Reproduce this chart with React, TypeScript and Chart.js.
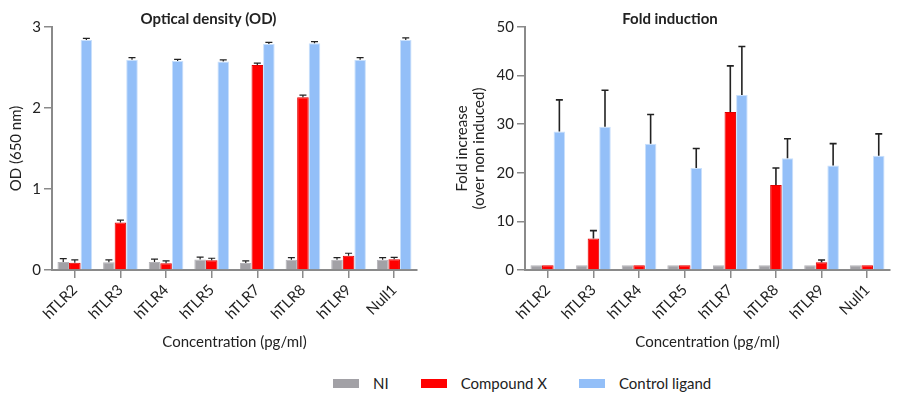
import React, { useEffect, useRef } from "react";
import { Chart, registerables } from "chart.js";

Chart.register(...registerables);

const categories = ["hTLR2", "hTLR3", "hTLR4", "hTLR5", "hTLR7", "hTLR8", "hTLR9", "Null1"];
const seriesNames = ["NI", "Compound X", "Control ligand"];

// Optical density (OD)
const odNI = [0.1, 0.095, 0.1, 0.13, 0.087, 0.128, 0.128, 0.128];
const odNIErr = [0.04, 0.03, 0.035, 0.03, 0.025, 0.025, 0.025, 0.025];
const odCompound = [0.09, 0.585, 0.082, 0.12, 2.53, 2.134, 0.177, 0.132];
const odCompoundErr = [0.035, 0.03, 0.03, 0.025, 0.025, 0.025, 0.03, 0.025];
const odControl = [2.84, 2.596, 2.58, 2.575, 2.79, 2.8, 2.596, 2.84];
const odControlErr = [0.02, 0.025, 0.02, 0.02, 0.02, 0.02, 0.025, 0.025];
const odTicks = [0, 1, 2, 3];

// Fold induction
const foldNI = [1, 1, 1, 1, 1, 1, 1, 1];
const foldNIErr = [0, 0, 0, 0, 0, 0, 0, 0];
const foldCompound = [1, 6.5, 1, 1, 32.5, 17.5, 1.6, 1];
const foldCompoundErr = [0, 1.6, 0, 0, 9.5, 3.5, 0.45, 0];
const foldControl = [28.5, 29.5, 26, 21, 36, 23, 21.5, 23.5];
const foldControlErr = [6.5, 7.5, 6, 4, 10, 4, 4.5, 4.5];
const foldTicks = [0, 10, 20, 30, 40, 50];

const COLORS = ["#a2a1a6", "#ff0000", "#93bff8"];
const BORDERS = ["#b4b3b8", "#e00000", "#c9e0fc"];
const AXIS = "#8a8a8a";
const TEXT = "#222222";
const FONT = "Lato, 'Noto Sans', sans-serif";

const errorBarPlugin = {
  id: "errorBars",
  afterDatasetsDraw(chart: any, _args: any, opts: any) {
    const { ctx } = chart;
    const yScale = chart.scales.y;
    ctx.save();
    ctx.strokeStyle = "#222";
    ctx.lineWidth = opts.lineWidth || 1.2;
    chart.data.datasets.forEach((ds: any, di: number) => {
      const meta = chart.getDatasetMeta(di);
      const errs: number[] = ds.errors || [];
      meta.data.forEach((bar: any, i: number) => {
        const e = errs[i];
        if (!e) return;
        const v = ds.data[i];
        const yTop = yScale.getPixelForValue(v + e);
        const x = bar.x;
        const half = (opts.cap || 6) / 2;
        ctx.beginPath();
        ctx.moveTo(x, bar.y);
        ctx.lineTo(x, yTop);
        ctx.moveTo(x - half, yTop);
        ctx.lineTo(x + half, yTop);
        ctx.stroke();
      });
    });
    ctx.restore();
  },
};

function makeConfig(
  title: string,
  yTitle: string | string[],
  values: number[][],
  errors: number[][],
  ticks: number[],
  yWidth: number,
  padRight: number,
  yTitlePad: number,
  errWidth: number
): any {
  return {
    type: "bar",
    data: {
      labels: categories,
      datasets: values.map((vals, k) => ({
        label: seriesNames[k],
        data: vals,
        errors: errors[k],
        backgroundColor: COLORS[k],
        borderColor: BORDERS[k],
        borderWidth: 1,
        borderSkipped: "bottom",
        barPercentage: 1,
        categoryPercentage: 0.76,
      })),
    },
    options: {
      animation: false,
      responsive: false,
      maintainAspectRatio: false,
      layout: { padding: { left: 0, right: padRight, top: 0, bottom: 0 } },
      plugins: {
        legend: { display: false },
        tooltip: { enabled: false },
        title: {
          display: true,
          text: title,
          color: TEXT,
          font: { family: FONT, size: 15, weight: "bold", lineHeight: 1.2 },
          padding: { top: 10, bottom: -1 },
        },
        errorBars: { lineWidth: errWidth, cap: 7 },
      },
      scales: {
        x: {
          offset: true,
          grid: {
            display: true,
            drawOnChartArea: false,
            drawTicks: true,
            tickLength: 8,
            color: AXIS,
            lineWidth: 1.5,
            offset: false,
          },
          border: { display: true, color: AXIS, width: 2 },
          ticks: {
            autoSkip: false,
            maxRotation: 45,
            minRotation: 45,
            padding: 3,
            color: TEXT,
            font: { family: FONT, size: 15 },
          },
          title: {
            display: true,
            text: "Concentration (pg/ml)",
            color: TEXT,
            font: { family: FONT, size: 15, lineHeight: 1.2 },
            padding: { top: 4, bottom: 3 },
          },
          afterFit(scale: any) {
            scale.height = 84;
          },
        },
        y: {
          min: ticks[0],
          max: ticks[ticks.length - 1],
          afterBuildTicks(scale: any) {
            scale.ticks = ticks.map((v) => ({ value: v }));
          },
          grid: {
            display: true,
            drawOnChartArea: false,
            drawTicks: true,
            tickLength: 8,
            color: AXIS,
            lineWidth: 1.5,
          },
          border: { display: true, color: AXIS, width: 2 },
          ticks: {
            padding: 3,
            color: TEXT,
            font: { family: FONT, size: 15 },
          },
          title: {
            display: true,
            text: yTitle,
            color: TEXT,
            font: { family: FONT, size: 15, lineHeight: 1.17 },
            padding: { top: yTitlePad, bottom: 0 },
          },
          afterFit(scale: any) {
            scale.width = yWidth;
          },
        },
      },
    },
    plugins: [errorBarPlugin],
  };
}

function ChartCanvas({ config, left }: { config: any; left: number }) {
  const ref = useRef<HTMLCanvasElement | null>(null);
  useEffect(() => {
    if (!ref.current) return;
    const chart = new Chart(ref.current, config);
    return () => chart.destroy();
  }, [config]);
  return (
    <canvas
      ref={ref}
      width={450}
      height={354}
      style={{ position: "absolute", left, top: 0, width: 450, height: 354 }}
    />
  );
}

const leftConfig = makeConfig(
  "Optical density (OD)",
  "OD (650 nm)",
  [odNI, odCompound, odControl],
  [odNIErr, odCompoundErr, odControlErr],
  odTicks,
  52,
  33,
  7.2,
  1.2
);

const rightConfig = makeConfig(
  "Fold induction",
  ["Fold increase", "(over non induced)"],
  [foldNI, foldCompound, foldControl],
  [foldNIErr, foldCompoundErr, foldControlErr],
  foldTicks,
  75,
  10,
  3,
  1.6
);

function LegendItem({ color, label }: { color: string; label: string }) {
  return (
    <div style={{ display: "flex", alignItems: "center", marginRight: 32 }}>
      <span style={{ display: "inline-block", width: 26, height: 9, background: color, marginRight: 14 }} />
      <span>{label}</span>
    </div>
  );
}

export default function App() {
  return (
    <div
      style={{
        position: "absolute",
        left: 0,
        top: 0,
        width: 900,
        height: 401,
        background: "#fff",
        overflow: "hidden",
        fontFamily: FONT,
      }}
    >
      <ChartCanvas config={leftConfig} left={0} />
      <ChartCanvas config={rightConfig} left={450} />
      <div
        style={{
          position: "absolute",
          left: 333,
          top: 374,
          display: "flex",
          alignItems: "center",
          fontSize: 15,
          color: TEXT,
          lineHeight: "18px",
        }}
      >
        {seriesNames.map((n, k) => (
          <LegendItem key={n} color={COLORS[k]} label={n} />
        ))}
      </div>
    </div>
  );
}
